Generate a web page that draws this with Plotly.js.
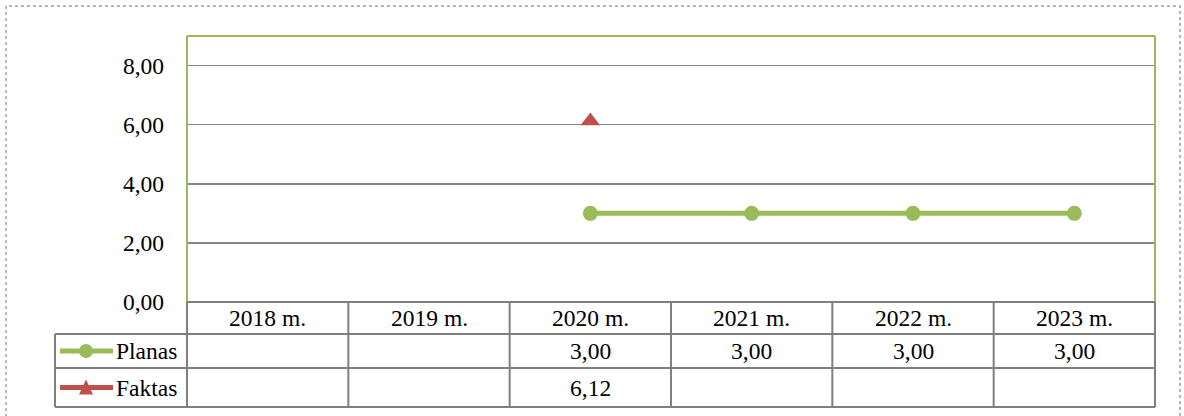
<!DOCTYPE html>
<html>
<head>
<meta charset="utf-8">
<script src="https://cdn.plot.ly/plotly-3.0.1.min.js"></script>
<style>html,body{margin:0;padding:0;background:#fff;}#chart{width:1184px;height:416px;}</style>
</head>
<body>
<div id="chart"></div>
<script>
const categories = ["2018 m.", "2019 m.", "2020 m.", "2021 m.", "2022 m.", "2023 m."];
const planas = [null, null, 3.00, 3.00, 3.00, 3.00];
const faktas = [null, null, 6.12, null, null, null];
const seriesNames = ["Planas", "Faktas"];
const yTicks = [0, 2, 4, 6, 8];

const W = 1184, H = 416;
const L = 187, R = 1155, T = 36, B = 302;
const green = "#9BBB59", red = "#C0504D", grid = "#868686", tbl = "#7F7F7F";
const font = "Liberation Serif";
const FS = 23.5;
const px = x => (x - L) / (R - L);
const py = y => (B - y) / (B - T);
const fmt = v => v == null ? "" : v.toFixed(2).replace(".", ",");
const xs = categories.map((c, i) => i);

const traces = [
  {x: xs, y: planas, name: seriesNames[0], mode: "lines+markers", connectgaps: false,
   line: {color: green, width: 5}, marker: {color: green, size: 15, symbol: "circle"}, cliponaxis: false},
  {x: xs, y: faktas, name: seriesNames[1], mode: "lines+markers",
   line: {color: red, width: 5}, marker: {color: red, size: 17, symbol: "triangle-up"}, cliponaxis: false}
];

const shapes = [];
const annotations = [];
shapes.push({type: "rect", xref: "paper", yref: "paper", x0: px(6), x1: px(1180), y0: py(430), y1: py(6),
  line: {color: "#A0A0A0", width: 1.5, dash: "dot"}, layer: "below"});
shapes.push({type: "line", xref: "paper", yref: "paper", x0: 0, x1: 1, y0: 1, y1: 1, line: {color: green, width: 2}});
shapes.push({type: "line", xref: "paper", yref: "paper", x0: 0, x1: 0, y0: 0, y1: 1, line: {color: green, width: 2}});
shapes.push({type: "line", xref: "paper", yref: "paper", x0: 1, x1: 1, y0: 0, y1: 1, line: {color: green, width: 2}});

const rowY = [302, 334, 368, 407];
const legX = 55;
shapes.push({type: "line", xref: "paper", yref: "paper", x0: 0, x1: 1, y0: py(rowY[0]), y1: py(rowY[0]), line: {color: tbl, width: 2}});
for (let r = 1; r < rowY.length; r++) {
  shapes.push({type: "line", xref: "paper", yref: "paper", x0: px(legX), x1: 1, y0: py(rowY[r]), y1: py(rowY[r]), line: {color: tbl, width: 2}});
}
shapes.push({type: "line", xref: "paper", yref: "paper", x0: px(legX), x1: px(legX), y0: py(rowY[1]), y1: py(rowY[3]), line: {color: tbl, width: 2}});
for (let i = 0; i <= categories.length; i++) {
  const xx = i / categories.length;
  shapes.push({type: "line", xref: "paper", yref: "paper", x0: xx, x1: xx, y0: py(rowY[0]), y1: py(rowY[3]), line: {color: tbl, width: 2}});
}
categories.forEach((c, i) => {
  annotations.push({x: i, xref: "x", y: py((rowY[0] + rowY[1]) / 2), yref: "paper", text: c, showarrow: false,
    font: {family: font, size: FS, color: "#000"}, xanchor: "center", yanchor: "middle"});
});
[planas, faktas].forEach((arr, r) => {
  const yc = py((rowY[r + 1] + rowY[r + 2]) / 2);
  arr.forEach((v, i) => {
    if (v == null) return;
    annotations.push({x: i, xref: "x", y: yc, yref: "paper", text: fmt(v), showarrow: false,
      font: {family: font, size: FS, color: "#000"}, xanchor: "center", yanchor: "middle"});
  });
  annotations.push({x: px(114), xref: "paper", y: yc, yref: "paper", text: seriesNames[r], showarrow: false,
    font: {family: font, size: FS, color: "#000"}, xanchor: "left", yanchor: "middle"});
});
const key = (rIdx, color, sym) => {
  const ycPix = (rowY[rIdx + 1] + rowY[rIdx + 2]) / 2;
  shapes.push({type: "line", xref: "paper", yref: "paper", x0: px(60), x1: px(113), y0: py(ycPix), y1: py(ycPix), line: {color: color, width: 5}});
  if (sym === "circle") {
    shapes.push({type: "circle", xref: "paper", yref: "paper", x0: px(79), x1: px(93), y0: py(ycPix + 7), y1: py(ycPix - 7),
      fillcolor: color, line: {color: color, width: 0}});
  } else {
    const pth = `M ${px(79)} ${py(ycPix + 7)} L ${px(93)} ${py(ycPix + 7)} L ${px(86)} ${py(ycPix - 8)} Z`;
    shapes.push({type: "path", xref: "paper", yref: "paper", path: pth, fillcolor: color, line: {color: color, width: 0}});
  }
};
key(0, green, "circle");
key(1, red, "triangle");

const layout = {
  width: W, height: H,
  font: {family: font, size: FS, color: "#000"},
  margin: {l: L, r: W - R, t: T, b: H - B, pad: 0},
  paper_bgcolor: "#fff", plot_bgcolor: "#fff",
  showlegend: false,
  xaxis: {range: [-0.5, categories.length - 0.5], showgrid: false, zeroline: false, showticklabels: false, ticks: "", showline: false, fixedrange: true},
  yaxis: {range: [0, 9], tickvals: yTicks, ticktext: yTicks.map(v => fmt(v)), showgrid: true, gridcolor: grid, gridwidth: 1.5,
    zeroline: false, showline: false, ticks: "", ticklabelstandoff: 22,
    tickfont: {family: font, size: FS, color: "#000"}, fixedrange: true},
  shapes: shapes,
  annotations: annotations
};
Plotly.newPlot("chart", traces, layout, {staticPlot: true, displayModeBar: false});
</script>
</body>
</html>
